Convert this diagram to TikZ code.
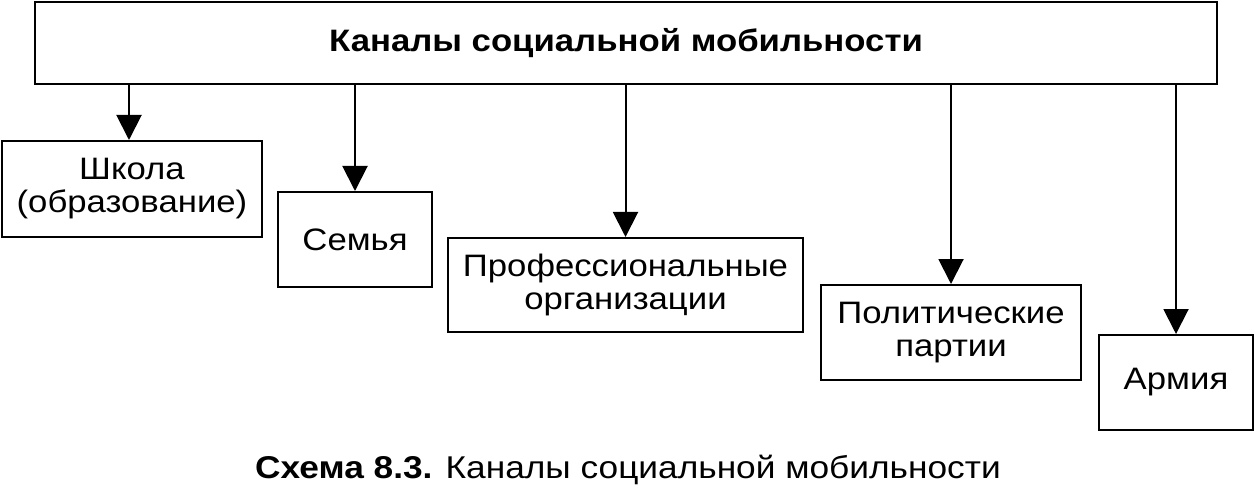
\documentclass[tikz,border=0pt]{standalone}
\usepackage{fontspec}
\setmainfont{Liberation Sans}[FakeStretch=1.12]
\usetikzlibrary{arrows.meta}
\tikzset{
  box/.style={draw, line width=2pt, inner sep=0pt, align=center, font=\fontsize{31}{33}\selectfont},
  arr/.style={line width=2pt, -{Triangle[width=25pt,length=25pt]}}
}
\begin{document}
\begin{tikzpicture}[x=1pt,y=-1pt]
\useasboundingbox[fill=white] (0,0) rectangle (1255,497);
\node[box, minimum width=1182pt, minimum height=82pt, font=\bfseries\fontsize{31}{35}\selectfont] (top) at (626,43) {Каналы социальной мобильности};
\node[box, minimum width=260pt, minimum height=96pt] (shk) at (132,189) {Школа\\(образование)};
\node[box, minimum width=154pt, minimum height=95pt] (sem) at (355,239.5) {Семья};
\node[box, minimum width=355pt, minimum height=94pt] (prof) at (625.5,285) {Профессиональные\\организации};
\node[box, minimum width=260pt, minimum height=95pt] (pol) at (951,332.5) {Политические\\партии};
\node[box, minimum width=154pt, minimum height=95pt] (arm) at (1176,382.5) {Армия};
\draw[arr] ([xshift=-3pt]top.south -| shk.north) -- ([xshift=-3pt]shk.north);
\draw[arr] (top.south -| sem.north) -- (sem.north);
\draw[arr] (top.south -| prof.north) -- (prof.north);
\draw[arr] (top.south -| pol.north) -- (pol.north);
\draw[arr] (top.south -| arm.north) -- (arm.north);
\node[font=\fontsize{31.5}{36}\selectfont] (cap) at (628,470) {\textbf{Схема 8.3.} Каналы социальной мобильности};
\end{tikzpicture}
\end{document}
